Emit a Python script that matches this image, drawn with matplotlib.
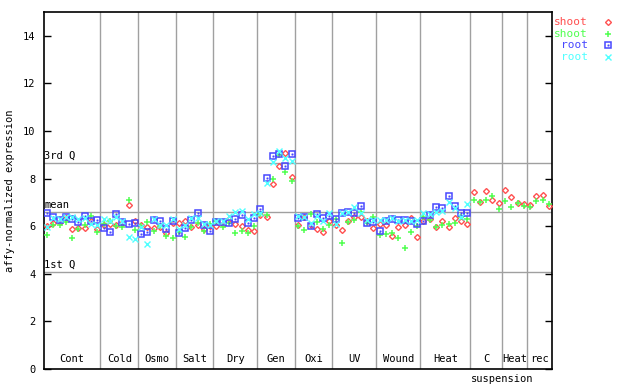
import matplotlib
matplotlib.use("Agg")
import matplotlib.pyplot as plt
import matplotlib.transforms as mtransforms
import numpy as np

categories = ["Cont", "Cold", "Osmo", "Salt", "Dry", "Gen", "Oxi", "UV",
              "Wound", "Heat", "C", "Heat", "rec"]
counts = [9, 6, 6, 6, 7, 6, 6, 7, 7, 8, 5, 4, 4]

shoot_red = [
    6.02, 6.15, 6.18, 6.33, 5.87, 5.91, 5.91, 6.20, 5.88,
    6.06, 6.10, 6.06, 6.15, 6.89, 6.20,
    6.05, 5.98, 5.94, 5.97, 5.71, 6.15,
    6.12, 6.23, 5.98, 6.05, 5.87, 6.00,
    6.00, 6.10, 6.30, 6.10, 5.99, 5.85, 5.78,
    6.45, 6.37, 7.76, 8.53, 9.06, 8.08,
    6.05, 6.37, 6.05, 5.87, 5.77, 6.23,
    6.05, 5.84, 6.23, 6.40, 6.37, 6.22, 5.91,
    6.09, 6.05, 5.59, 5.95, 6.03, 6.33, 5.53,
    6.22, 6.30, 5.95, 6.22, 5.95, 6.33, 6.20, 6.09,
    7.42, 7.00, 7.50, 7.09, 6.97,
    7.51, 7.21, 6.96, 6.93,
    6.89, 7.26, 7.30, 6.85,
]
shoot_green = [
    5.63, 6.04, 6.04, 6.16, 5.49, 5.88, 6.05, 6.43, 5.75,
    6.10, 6.20, 6.00, 5.98, 7.10, 5.84,
    6.00, 6.19, 5.80, 6.00, 5.59, 5.49,
    5.75, 5.53, 5.98, 6.15, 5.78, 6.10,
    6.20, 5.95, 6.15, 5.70, 5.78, 5.70, 6.00,
    6.50, 6.47, 7.97, 9.00, 8.29, 7.91,
    6.00, 5.84, 6.51, 6.19, 5.90, 6.05,
    6.30, 5.28, 6.19, 6.27, 6.61, 6.15, 6.40,
    5.63, 5.67, 5.73, 5.49, 5.07, 5.77, 6.00,
    6.40, 6.25, 5.95, 6.05, 6.10, 6.15, 6.40, 6.30,
    7.09, 7.00, 7.09, 7.27, 6.71,
    7.05, 6.79, 6.99, 6.85,
    6.79, 7.05, 7.09, 6.93,
]
root_blue = [
    6.54, 6.37, 6.26, 6.37, 6.30, 6.18, 6.43, 6.22, 6.26,
    5.91, 5.76, 6.51, 6.18, 6.09, 6.15,
    5.66, 5.77, 6.26, 6.20, 5.87, 6.20,
    5.70, 5.91, 6.26, 6.54, 6.05, 5.81,
    6.19, 6.19, 6.15, 6.29, 6.47, 6.12, 6.33,
    6.71, 8.01, 8.95, 9.03, 8.53, 9.03,
    6.33, 6.37, 6.00, 6.51, 6.33, 6.43,
    6.29, 6.57, 6.61, 6.57, 6.85, 6.15, 6.17,
    5.80, 6.23, 6.29, 6.25, 6.25, 6.23, 6.09,
    6.22, 6.47, 6.79, 6.75, 7.27, 6.85, 6.57, 6.57,
]
root_cyan = [
    5.98, 6.33, 6.30, 6.37, 6.40, 6.30, 6.33, 6.10, 6.05,
    6.30, 6.20, 6.40, 6.20, 5.56, 5.45,
    5.95, 5.25, 6.30, 6.05, 6.05, 6.30,
    5.90, 6.05, 6.33, 6.33, 6.10, 6.05,
    6.20, 6.23, 6.43, 6.61, 6.63, 6.30, 6.50,
    6.55, 7.83, 8.68, 9.17, 8.85, 8.75,
    6.43, 6.37, 6.15, 6.43, 6.20, 6.55,
    6.10, 6.57, 6.61, 6.79, 6.55, 6.25, 6.25,
    6.25, 6.27, 6.35, 6.20, 6.27, 6.20, 6.27,
    6.54, 6.50, 6.60, 6.65, 7.03, 6.75, 6.40, 6.93,
]
q1_value = 4.08
mean_value = 6.60
q3_value = 8.66
yticks = [0, 2, 4, 6, 8, 10, 12, 14]

RED = "#ff5050"
GREEN = "#50ff50"
BLUE = "#4848ff"
CYAN = "#50ffff"
GRAY = "#a0a0a0"
FONT = "DejaVu Sans Mono"

fig = plt.figure(figsize=(6.4, 3.84), dpi=100)
ax = fig.add_axes([44 / 640, 15 / 384, 508 / 640, 357 / 384])

n = sum(counts)
ax.set_xlim(-0.5, n - 0.5)
ax.set_ylim(0, 15)

# separators
bounds = np.cumsum(counts)[:-1] - 0.5
for b in bounds:
    ax.axvline(b, color=GRAY, lw=1, zorder=1)
for v in (q1_value, mean_value, q3_value):
    ax.axhline(v, color=GRAY, lw=1, zorder=1)

trans = mtransforms.blended_transform_factory(ax.transData, ax.transAxes)
ax.text(-0.45, q3_value + 0.1, "3rd Q", fontsize=7.5, family=FONT, va="bottom", ha="left")
ax.text(-0.45, mean_value + 0.1, "mean", fontsize=7.5, family=FONT, va="bottom", ha="left")
ax.text(-0.45, q1_value + 0.1, "1st Q", fontsize=7.5, family=FONT, va="bottom", ha="left")

x_shoot = np.arange(len(shoot_red))
x_root = np.arange(len(root_blue))
ax.plot(x_shoot, shoot_red, ls="none", marker="D", ms=3.0, mfc="none", mec=RED, mew=1.0, zorder=3)
ax.plot(x_shoot, shoot_green, ls="none", marker="+", ms=5, mec=GREEN, mew=1.1, zorder=3)
ax.plot(x_root, root_blue, ls="none", marker="s", ms=4.2, mfc="none", mec=BLUE, mew=1.1, zorder=3)
ax.plot(x_root, root_blue, ls="none", marker="s", ms=0.9, mfc=BLUE, mec=BLUE, mew=0.5, zorder=3)
ax.plot(x_root, root_cyan, ls="none", marker="x", ms=4.0, mec=CYAN, mew=1.0, zorder=3)

# category labels
starts = np.concatenate([[0], np.cumsum(counts)[:-1]])
for name, s, c in zip(categories, starts, counts):
    ax.text(s + (c - 1) / 2, 0.2, name, fontsize=7.5, family=FONT, ha="center", va="bottom")
ax.text(starts[10] + (counts[10] - 1) / 2 + 2.5, -0.015, "suspension", transform=trans,
        fontsize=7.5, family=FONT, ha="center", va="top")

ax.set_yticks(yticks)
ax.set_yticklabels([str(t) for t in yticks], family=FONT, fontsize=7.5)
ax.set_xticks([])
ax.tick_params(axis="y", direction="in", length=5, right=True, left=True, width=1, pad=6)
for sp in ax.spines.values():
    sp.set_linewidth(1.2)
ax.set_ylabel("affy-normalized expression", family=FONT, fontsize=7.5, labelpad=6)

# legend outside right
legend_items = [("shoot", RED, "D"), ("shoot", GREEN, "+"), ("root", BLUE, "s"), ("root", CYAN, "x")]
for i, (lab, col, mk) in enumerate(legend_items):
    ypix = 22 + i * 11.7
    fy = 1 - ypix / 384
    fig.text(588 / 640, fy, lab, color=col, family=FONT, fontsize=8, ha="right", va="center")
    kw = dict(ls="none", marker=mk, color=col, mec=col, transform=fig.transFigure, clip_on=False)
    if mk == "D":
        fig.lines.append(plt.Line2D([608 / 640], [fy], ms=3.0, mfc="none", mew=1.0, **kw))
    elif mk == "s":
        fig.lines.append(plt.Line2D([608 / 640], [fy], ms=4.2, mfc="none", mew=1.1, **kw))
        fig.lines.append(plt.Line2D([608 / 640], [fy], ms=0.9, mfc=col, mew=0.5, **kw))
    elif mk == "+":
        fig.lines.append(plt.Line2D([608 / 640], [fy], ms=5, mew=1.1, **kw))
    else:
        fig.lines.append(plt.Line2D([608 / 640], [fy], ms=4.0, mew=1.0, **kw))

fig.savefig("out.png", dpi=100)
